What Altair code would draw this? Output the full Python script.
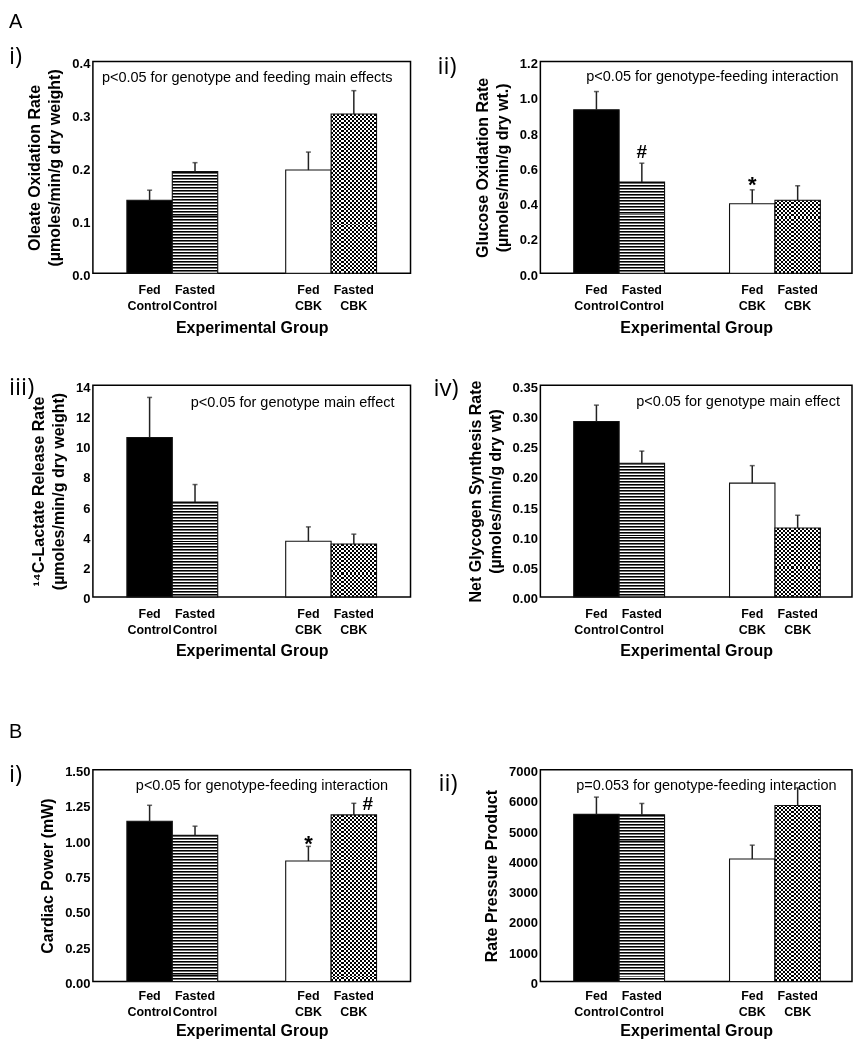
import altair as alt
import pandas as pd

# ---------------- data ----------------
groups = ["Fed Control", "Fasted Control", "Fed CBK", "Fasted CBK"]
feeding = ["Fed", "Fasted", "Fed", "Fasted"]
genotype = ["Control", "Control", "CBK", "CBK"]

oleate_mean = [0.138, 0.192, 0.195, 0.301]
oleate_sem = [0.019, 0.017, 0.034, 0.044]
oleate_sig = ["", "", "", ""]
oleate_ticks = [0.0, 0.1, 0.2, 0.3, 0.4]

glucose_mean = [0.927, 0.517, 0.394, 0.414]
glucose_sem = [0.103, 0.107, 0.079, 0.082]
glucose_sig = ["", "#", "*", ""]
glucose_ticks = [0.0, 0.2, 0.4, 0.6, 0.8, 1.0, 1.2]

lactate_mean = [10.54, 6.28, 3.68, 3.50]
lactate_sem = [2.65, 1.15, 0.95, 0.65]
lactate_sig = ["", "", "", ""]
lactate_ticks = [0, 2, 4, 6, 8, 10, 12, 14]

glycogen_mean = [0.290, 0.221, 0.188, 0.114]
glycogen_sem = [0.027, 0.020, 0.029, 0.021]
glycogen_sig = ["", "", "", ""]
glycogen_ticks = [0.0, 0.05, 0.10, 0.15, 0.20, 0.25, 0.30, 0.35]

power_mean = [1.135, 1.035, 0.853, 1.180]
power_sem = [0.113, 0.065, 0.104, 0.082]
power_sig = ["", "", "*", "#"]
power_ticks = [0.0, 0.25, 0.5, 0.75, 1.0, 1.25, 1.5]

rpp_mean = [5523, 5513, 4046, 5818]
rpp_sem = [571, 371, 460, 581]
rpp_sig = ["", "", "", ""]
rpp_ticks = [0, 1000, 2000, 3000, 4000, 5000, 6000, 7000]

# ---------------- layout / style ----------------
H = 212
W_LEFT = 318
W_RIGHT = 312
FONT = "Liberation Sans"
LABEL_FONT = "Open Sans"
DARK = "#111111"


def stripe_gradient(n, along_y, bands):
    """bands: list of (fraction, color) making up one period."""
    stops = []
    for k in range(n):
        pos = 0.0
        for frac, col in bands:
            a = (k + pos) / n
            pos += frac
            b = (k + pos) / n
            stops += [{"offset": a, "color": col}, {"offset": b, "color": col}]
    return {"gradient": "linear", "stops": stops, "x1": 0, "y1": 0,
            "x2": 0 if along_y else 1, "y2": 1 if along_y else 0}


def panel(mean, sem, sig, ticks, fmt, ytitle, width, annot, annot_pos,
          labels, sig_style, label_dy=21, title_pad=46):
    ymax = ticks[-1]
    df = pd.DataFrame({"group": groups, "feeding": feeding, "genotype": genotype,
                       "mean": mean, "sem": sem, "sig": sig})
    base = alt.Chart(df).transform_calculate(top="datum.mean + datum.sem")

    xscale = alt.Scale(domain=["Control", "CBK"], paddingInner=0.428, paddingOuter=0.214)
    xoff = alt.XOffset("feeding:N", scale=alt.Scale(domain=["Fed", "Fasted"],
                                                    paddingInner=0, paddingOuter=0))
    xaxis = alt.Axis(title="Experimental Group", labels=False, ticks=False,
                     domain=False, titleFontSize=16, titleFontWeight="bold",
                     titlePadding=title_pad, titleColor="#000", titleFont=FONT)
    xenc = alt.X("genotype:N", scale=xscale, axis=xaxis)
    yscale = alt.Scale(domain=[0, ymax], nice=False, zero=True)
    yaxis = alt.Axis(values=ticks, format=fmt, title=ytitle, grid=False,
                     ticks=False, domain=False, labelFontSize=13,
                     labelFontWeight="bold", labelColor="#000",
                     labelPadding=3, labelOffset=2, labelFont=FONT,
                     titleFontSize=16, titleFontWeight="bold",
                     titleColor="#000", titlePadding=9,
                     titleLineHeight=20, titleFont=FONT)
    ymean = alt.Y("mean:Q", scale=yscale, axis=yaxis)
    ytop = alt.Y("top:Q", scale=yscale, axis=yaxis)

    # pixel sizes used only to size the hatch textures
    bar_w = width * 0.143
    h_fc = mean[1] / ymax * H
    h_fk = mean[3] / ymax * H
    third = 1 / 3
    stripes = stripe_gradient(max(2, round(h_fc / 3.0)), True,
                              [(third, "#000000"), (third, "#6e6e6e"), (third, "#ffffff")])
    checker_cols = stripe_gradient(max(2, round(bar_w / 4.0)), False,
                                   [(0.5, "#000000"), (0.5, "#ffffff")])
    checker_rows = stripe_gradient(max(2, round(h_fk / 4.0)), True,
                                   [(0.5, "#ffffff"), (0.5, "#000000")])

    bar_kw = dict(stroke=DARK, strokeWidth=1.1)
    layers = [
        base.transform_filter("datum.group == 'Fed Control'")
            .mark_bar(fill="#000000", **bar_kw)
            .encode(x=xenc, xOffset=xoff, y=ymean),
        base.transform_filter("datum.group == 'Fasted Control'")
            .mark_bar(fill=stripes, **bar_kw)
            .encode(x=xenc, xOffset=xoff, y=ymean),
        base.transform_filter("datum.group == 'Fed CBK'")
            .mark_bar(fill="#ffffff", **bar_kw)
            .encode(x=xenc, xOffset=xoff, y=ymean),
        base.transform_filter("datum.group == 'Fasted CBK'")
            .mark_bar(fill=checker_cols, strokeWidth=0)
            .encode(x=xenc, xOffset=xoff, y=ymean),
        base.transform_filter("datum.group == 'Fasted CBK'")
            .mark_bar(fill=checker_rows, strokeWidth=0, blend="difference")
            .encode(x=xenc, xOffset=xoff, y=ymean),
        base.transform_filter("datum.group == 'Fasted CBK'")
            .mark_bar(fill="transparent", **bar_kw)
            .encode(x=xenc, xOffset=xoff, y=ymean),
        base.mark_rule(color="#222222", strokeWidth=1.5)
            .encode(x=xenc, xOffset=xoff, y=ymean, y2=alt.Y2("top:Q")),
        base.mark_tick(color="#222222", thickness=1.5, size=5)
            .encode(x=xenc, xOffset=xoff, y=ytop),
        base.transform_calculate(lab="datum.feeding + '\\n' + datum.genotype")
            .mark_text(lineBreak="\n", fontSize=12.5, fontWeight="bold", font=FONT,
                       baseline="alphabetic", lineHeight=16, color="#000")
            .encode(x=xenc, xOffset=xoff, y=alt.value(H + label_dy), text="lab:N"),
    ]
    for sym, (fs, dx, dy) in sig_style.items():
        layers.append(
            base.transform_filter(f"datum.sig == '{sym}'")
                .mark_text(text=sym, fontSize=fs, fontWeight="bold", font=FONT,
                           baseline="alphabetic", dx=dx, dy=dy, color="#000")
                .encode(x=xenc, xOffset=xoff, y=ytop))
    layers.append(
        alt.Chart(pd.DataFrame({"t": [annot]}))
            .mark_text(align="left", baseline="middle", fontSize=14.5, font=FONT, color="#000")
            .encode(text="t:N", x=alt.value(annot_pos[0]), y=alt.value(annot_pos[1])))
    for txt, fs, fnt, px, py in labels:
        layers.append(
            alt.Chart(pd.DataFrame({"t": [txt]}))
                .mark_text(align="left", baseline="alphabetic", fontSize=fs,
                           font=fnt, color="#000")
                .encode(text="t:N", x=alt.value(px), y=alt.value(py)))
    return alt.layer(*layers).properties(width=width, height=H)


def spacer(width, height):
    return (alt.Chart(pd.DataFrame({"v": [0]}))
            .mark_point(opacity=0)
            .encode(x=alt.value(0), y=alt.value(0))
            .properties(width=width, height=height,
                        view=alt.ViewBackground(stroke="transparent")))


a1 = panel(oleate_mean, oleate_sem, oleate_sig, oleate_ticks, ".1f",
           ["Oleate Oxidation Rate", "(µmoles/min/g dry weight)"], W_LEFT,
           "p<0.05 for genotype and feeding main effects", (9, 16),
           [("A", 20, FONT, -84, -34), ("i)", 24, LABEL_FONT, -84, 2)], {})
a2 = panel(glucose_mean, glucose_sem, glucose_sig, glucose_ticks, ".1f",
           ["Glucose Oxidation Rate", "(µmoles/min/g dry wt.)"], W_RIGHT,
           "p<0.05 for genotype-feeding interaction", (46, 15),
           [("ii)", 24, LABEL_FONT, -103, 12)], {"#": (19, 0, -5), "*": (22, 0, 2)})
a3 = panel(lactate_mean, lactate_sem, lactate_sig, lactate_ticks, "d",
           ["¹⁴C-Lactate Release Rate", "(µmoles/min/g dry weight)"], W_LEFT,
           "p<0.05 for genotype main effect", (98, 18),
           [("iii)", 24, LABEL_FONT, -84, 10)], {})
a4 = panel(glycogen_mean, glycogen_sem, glycogen_sig, glycogen_ticks, ".2f",
           ["Net Glycogen Synthesis Rate", "(µmoles/min/g dry wt)"], W_RIGHT,
           "p<0.05 for genotype main effect", (96, 17),
           [("iv)", 24, LABEL_FONT, -107, 11)], {})
b1 = panel(power_mean, power_sem, power_sig, power_ticks, ".2f",
           "Cardiac Power (mW)", W_LEFT,
           "p<0.05 for genotype-feeding interaction", (43, 16),
           [("B", 20, FONT, -84, -32), ("i)", 24, LABEL_FONT, -84, 12)],
           {"*": (22, 0, 5), "#": (19, 14, 7)}, label_dy=19, title_pad=41)
b2 = panel(rpp_mean, rpp_sem, rpp_sig, rpp_ticks, "d",
           "Rate Pressure Product", W_RIGHT,
           "p=0.053 for genotype-feeding interaction", (36, 16),
           [("ii)", 24, LABEL_FONT, -102, 21)], {}, label_dy=19, title_pad=41)

chart = alt.concat(
    a1, a2,
    spacer(W_LEFT, 1), spacer(W_RIGHT, 1),
    a3, a4,
    spacer(W_LEFT, 62), spacer(W_RIGHT, 62),
    b1, b2,
    columns=2,
    spacing={"row": 55.5, "column": 130},
    bounds="flush",
).properties(
    padding={"top": 2, "left": 0, "right": 0, "bottom": 0},
    background="white",
).configure_view(
    stroke="#000000", strokeWidth=1.5
)

chart.save("out.html", embed_options={"renderer": "svg", "actions": False})
